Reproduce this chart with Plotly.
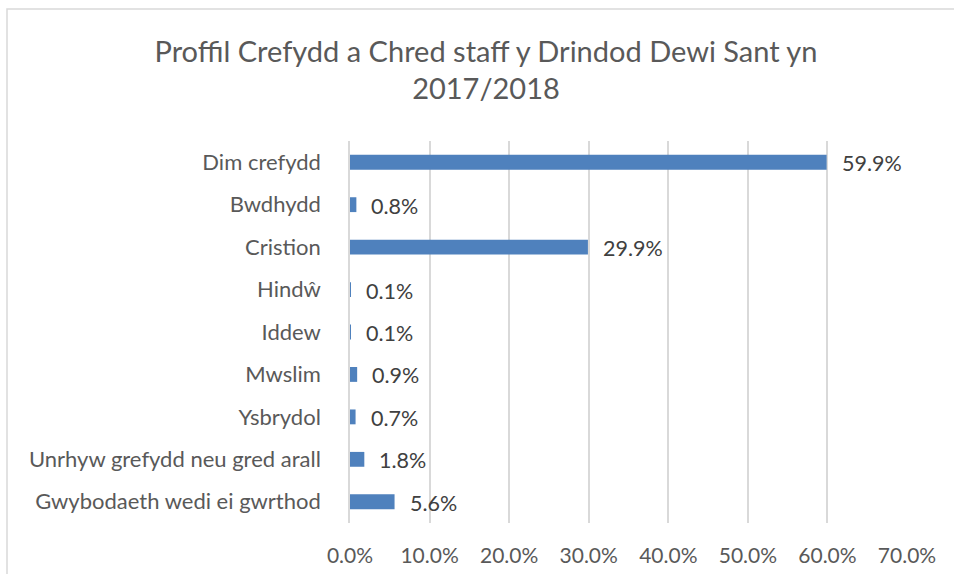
import plotly.graph_objects as go

categories = ["Dim crefydd", "Bwdhydd", "Cristion", "Hindŵ", "Iddew", "Mwslim",
              "Ysbrydol", "Unrhyw grefydd neu gred arall", "Gwybodaeth wedi ei gwrthod"]
values = [59.9, 0.8, 29.9, 0.1, 0.1, 0.9, 0.7, 1.8, 5.6]
tick_vals = [0, 10, 20, 30, 40, 50, 60, 70]
tick_text = ["0.0%", "10.0%", "20.0%", "30.0%", "40.0%", "50.0%", "60.0%", "70.0%"]
title_text = "Proffil Crefydd a Chred staff y Drindod Dewi Sant yn<br>2017/2018"

FONT = "Lato"
W, H = 954, 574
L, R, T, B = 350, 47, 141, 51

fig = go.Figure()
fig.add_trace(go.Bar(
    x=values, y=categories, orientation="h",
    marker=dict(color="#4F81BD", line=dict(width=0)),
    hoverinfo="x+y",
))

for c, v in zip(categories, values):
    fig.add_annotation(x=v, y=c, text=f"{v:.1f}%", showarrow=False,
                       xanchor="left", xshift=13, yshift=-1,
                       font=dict(family=FONT, size=21.5, color="#404040"))

pw = W - L - R
ph = H - T - B
fig.add_shape(type="rect", xref="paper", yref="paper",
              x0=(7 - L) / pw, x1=(W + 10 - L) / pw,
              y0=-(H + 10 - (H - B)) / ph, y1=((H - B) - 9) / ph,
              line=dict(color="#d9d9d9", width=1.5), fillcolor="rgba(0,0,0,0)", layer="below")

fig.update_layout(
    width=W, height=H,
    margin=dict(l=L, r=R, t=T, b=B, autoexpand=False),
    paper_bgcolor="white", plot_bgcolor="white",
    bargap=0.65, showlegend=False,
    title=dict(text=title_text, x=486 / W, xanchor="center", xref="container",
               y=1 - 61.5 / H, yanchor="middle",
               font=dict(family=FONT, size=29, color="#595959")),
    font=dict(family=FONT, color="#595959"),
)
fig.update_xaxes(range=[0, 70], tickvals=tick_vals, ticktext=tick_text,
                 showgrid=True, gridcolor="#d9d9d9", gridwidth=1.5,
                 zeroline=False, showline=False, ticks="",
                 ticklabelstandoff=18,
                 tickfont=dict(family=FONT, size=21, color="#595959"))
fig.update_yaxes(autorange="reversed", showgrid=False, zeroline=False,
                 showline=True, linecolor="#d9d9d9", linewidth=1.5, ticks="",
                 ticklabelstandoff=23,
                 tickfont=dict(family=FONT, size=22, color="#595959"))

fig.write_html("out.html", config={"displayModeBar": False},
               post_script="document.body.style.margin='0';document.body.style.overflow='hidden';")
